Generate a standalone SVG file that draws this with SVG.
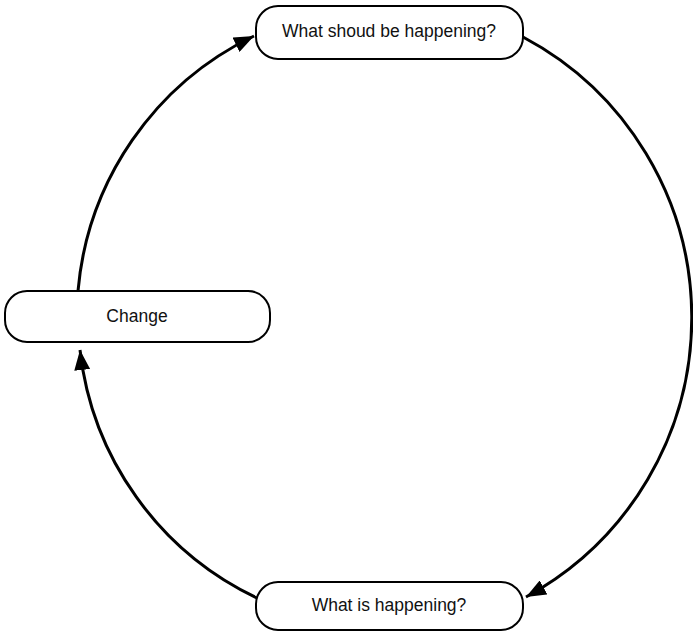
<svg xmlns="http://www.w3.org/2000/svg" width="693" height="633" viewBox="0 0 693 633">
<defs>
<style>
.node rect{fill:#fff;stroke:#000;stroke-width:2}
.node text{font-family:"Liberation Sans",Arial,sans-serif;font-size:17.5px;fill:#111;text-anchor:middle}
.conn path{fill:none;stroke:#000;stroke-width:3}
</style>
<marker id="arr" viewBox="0 0 20 16" refX="20" refY="8" markerWidth="20" markerHeight="16" markerUnits="userSpaceOnUse" orient="auto">
<path d="M0,0 L20,8 L0,16 Z" fill="#000"/>
</marker>
</defs>
<rect width="693" height="633" fill="#fff"/>
<g class="conn">
<path d="M523,37 A318,318 0 0 1 526,597" marker-end="url(#arr)"/>
<path d="M257,598 A313,313 0 0 1 80,350" marker-end="url(#arr)"/>
<path d="M78,291 A313,313 0 0 1 254,36" marker-end="url(#arr)"/>
</g>
<g id="node-should" class="node">
<rect x="256" y="6" width="267" height="53" rx="22"/>
<text x="389" y="37">What shoud be happening?</text>
</g>
<g id="node-change" class="node">
<rect x="5" y="291" width="265" height="51" rx="22"/>
<text x="137" y="322">Change</text>
</g>
<g id="node-is" class="node">
<rect x="256" y="582" width="267" height="48" rx="22"/>
<text x="389" y="611">What is happening?</text>
</g>
</svg>
